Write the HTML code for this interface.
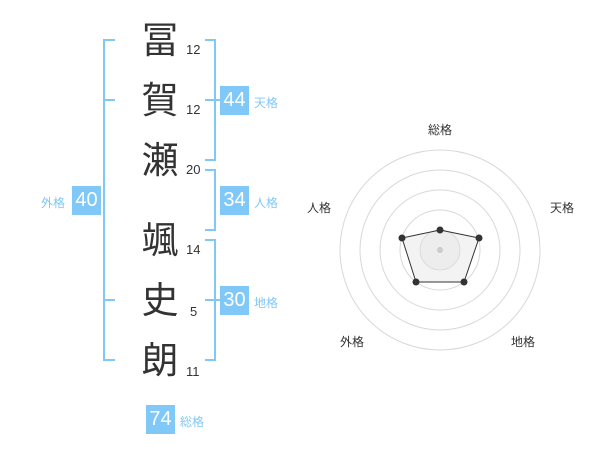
<!DOCTYPE html>
<html><head><meta charset="utf-8"><style>
body{margin:0;width:600px;height:470px;background:#fff;position:relative;overflow:hidden;font-family:"Liberation Sans","Noto Sans CJK JP",sans-serif}
.k{position:absolute;left:140px;width:40px;text-align:center;font-size:37px;line-height:40px;color:#333}
.n{position:absolute;font-size:13px;color:#333}
.b{position:absolute;width:29px;height:29px;background:#80c8f8;color:#fff;font-size:20px;line-height:29px;text-align:center}
.l{position:absolute;font-size:12px;color:#80c8f8}
.v{position:absolute;background:#80c8f8}
</style></head><body>
<div class="k" style="top:21px">冨</div><div class="n" style="left:186px;top:42px">12</div>
<div class="k" style="top:81px">賀</div><div class="n" style="left:186px;top:102px">12</div>
<div class="k" style="top:141px">瀬</div><div class="n" style="left:186px;top:162px">20</div>
<div class="k" style="top:221px">颯</div><div class="n" style="left:186px;top:242px">14</div>
<div class="k" style="top:281px">史</div><div class="n" style="left:190px;top:304px">5</div>
<div class="k" style="top:341px">朗</div><div class="n" style="left:186px;top:364px">11</div>

<div class="v" style="left:103px;top:39px;width:2px;height:322px"></div>
<div class="v" style="left:103px;top:39px;width:12px;height:2px"></div>
<div class="v" style="left:103px;top:99px;width:12px;height:2px"></div>
<div class="v" style="left:103px;top:299px;width:12px;height:2px"></div>
<div class="v" style="left:103px;top:359px;width:12px;height:2px"></div>

<div class="v" style="left:214px;top:39px;width:2px;height:122px"></div>
<div class="v" style="left:205px;top:39px;width:10px;height:2px"></div>
<div class="v" style="left:205px;top:159px;width:10px;height:2px"></div>
<div class="v" style="left:205px;top:99px;width:15px;height:2px"></div>

<div class="v" style="left:214px;top:169px;width:2px;height:62px"></div>
<div class="v" style="left:205px;top:169px;width:10px;height:2px"></div>
<div class="v" style="left:205px;top:229px;width:10px;height:2px"></div>

<div class="v" style="left:214px;top:239px;width:2px;height:122px"></div>
<div class="v" style="left:205px;top:239px;width:10px;height:2px"></div>
<div class="v" style="left:205px;top:359px;width:10px;height:2px"></div>
<div class="v" style="left:205px;top:299px;width:15px;height:2px"></div>

<div class="b" style="left:220px;top:86px">44</div><div class="l" style="left:254px;top:94px">天格</div>
<div class="b" style="left:220px;top:186px">34</div><div class="l" style="left:254px;top:194px">人格</div>
<div class="b" style="left:220px;top:286px">30</div><div class="l" style="left:254px;top:294px">地格</div>
<div class="b" style="left:72px;top:186px">40</div><div class="l" style="left:41px;top:194px">外格</div>
<div class="b" style="left:146px;top:405px">74</div><div class="l" style="left:180px;top:413px">総格</div>

<svg style="position:absolute;left:0;top:0" width="600" height="470">
<g fill="none" stroke="#d8d8d8" stroke-width="1">
<circle cx="440" cy="250" r="100"/><circle cx="440" cy="250" r="80"/><circle cx="440" cy="250" r="60"/><circle cx="440" cy="250" r="40"/>
</g>
<circle cx="440" cy="250" r="20" fill="#f6f6f6" stroke="#d8d8d8"/>
<polygon points="440,230 479,238 464,282 416,282 402,238" fill="rgba(225,225,225,0.4)" stroke="#333" stroke-width="1"/>
<circle cx="440" cy="250" r="3" fill="#ccc"/>
<g fill="#333"><circle cx="440" cy="230" r="3.5"/><circle cx="479" cy="238" r="3.5"/><circle cx="464" cy="282" r="3.5"/><circle cx="416" cy="282" r="3.5"/><circle cx="402" cy="238" r="3.5"/></g>
<g font-size="12" fill="#333" text-anchor="middle" font-family="Liberation Sans,Noto Sans CJK JP,sans-serif">
<text x="440" y="134">総格</text><text x="562" y="212">天格</text><text x="319" y="212">人格</text><text x="352" y="346">外格</text><text x="523" y="346">地格</text>
</g>
</svg>
</body></html>
